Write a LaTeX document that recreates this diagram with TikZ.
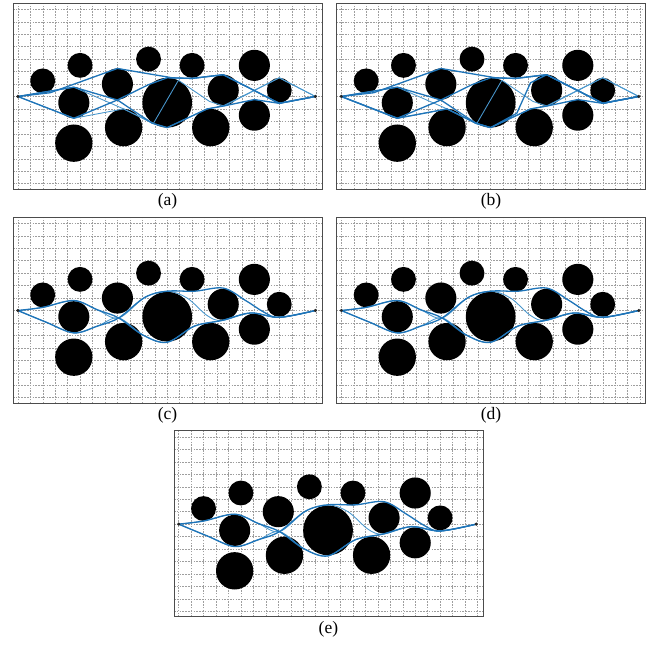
\documentclass[tikz,border=0pt]{standalone}
\usepackage{fontspec}
\setmainfont{Liberation Serif}
\usetikzlibrary{positioning}
\definecolor{pathblue}{RGB}{30,116,184}
\definecolor{pathlight}{RGB}{72,150,204}

\tikzset{
  gridline/.style={black!38, line width=0.45pt, dash pattern=on 1.8pt off 1.4pt},
  frameline/.style={black!70, line width=0.9pt},
  obstacle/.style={fill=black},
  route/.style={pathblue, line width=1.5pt, line join=round},
  routethin/.style={pathlight, line width=1pt, line join=round},
  endpoint/.style={fill=black!85},
  caption/.style={font=\fontsize{20}{22}\selectfont, inner sep=0pt, anchor=north},
}

% grid, obstacles, frame and start/goal of one panel
\newcommand{\workspace}[2]{%
  \foreach \gx in {0,...,24} \draw[gridline] (\gx,-0.45) -- (\gx,14.5);
  \foreach \gy in {0,...,14} \draw[gridline] (-0.38,\gy) -- (24.45,\gy);
  \foreach \cx/\cy/\r in {2/8.25/1, 5/9.5/1, 4.5/6.5/1.25, 4.5/3.25/1.5,
      8/8/1.25, 10.5/10/1, 8.5/4.5/1.5, 12/6.5/2, 14/9.5/1, 15.5/4.5/1.5,
      16.5/7.5/1.25, 19/9.5/1.25, 19/5.5/1.25, 21/7.5/1}
    \fill[obstacle] (\cx,\cy) circle (\r);
  \draw[frameline] (-0.38,-0.45) rectangle (24.45,14.5);
  \node[caption] (#1-cap) at (12.03,-0.8) {#2};
  \coordinate (#1-s) at (0,7);
  \coordinate (#1-t) at (23.9,7);
}
\newcommand{\markends}[1]{%
  \fill[endpoint] (#1-s) circle (0.14);
  \fill[endpoint] (#1-t) circle (0.14);
}
% straight-line candidate routes
\newcommand{\polyroutes}[1]{%
  \draw[routethin] (#1-s) -- (4.5,5.25) -- (8.5,6) -- (10.9,4.85) -- (12.9,8.3) -- (15.4,6.6) -- (16.5,6.25) -- (21,8.5) -- (#1-t);
  \draw[routethin] (#1-s) -- (4.5,7.75) -- (8.5,6) -- (10.8,4.85) -- (12,4.5) -- (15.2,6) -- (16.6,6.25) -- (21,8.5) -- (#1-t);
  \draw[route] (#1-s) -- (2.6,7.3) -- (8,9.25) -- (12.4,8.5) -- (14,8.45) -- (16.5,8.75) -- (21,6.45) -- (#1-t);
  \draw[route] (#1-s) -- (4.5,7.75) -- (8,6.72) -- (10.8,4.85) -- (12,4.5) -- (15.2,6) -- (16.6,6.25) -- (19,6.75) -- (21,6.45) -- (#1-t);
  \draw[route] (#1-s) -- (4.5,5.25) -- (8,6.72) -- (10.5,7.95) -- (12,8.5) -- (14,8.45) -- (16.5,8.75) -- (21,6.45) -- (#1-t);
}
% smoothed routes
\newcommand{\smoothroutes}[1]{%
  \draw[routethin] plot[smooth, tension=0.55] coordinates {(#1-s) (2,7.25) (4.5,7.8) (6.4,7.05) (8.1,6.4) (10.2,8.05) (12,8.55) (13.6,8.0) (15.2,6.6) (16.4,6.2) (18.7,6.8) (21,6.45) (#1-t)};
  \draw[routethin] plot[smooth, tension=0.55] coordinates {(#1-s) (2.3,6.05) (4.5,5.2) (6.4,5.75) (8.1,6.4) (10.1,5.0) (12,4.45) (14.2,5.75) (16.4,6.2) (18.7,6.8) (21,6.45) (#1-t)};
  \draw[route] plot[smooth, tension=0.55] coordinates {(#1-s) (2,7.25) (4.5,7.8) (6.4,7.05) (8.1,6.4) (10.1,5.0) (12,4.45) (14.2,5.75) (16.4,6.2) (18.7,6.8) (21,6.45) (#1-t)};
  \draw[route] plot[smooth, tension=0.55] coordinates {(#1-s) (2.3,6.05) (4.5,5.2) (6.4,5.75) (8.1,6.4) (10.2,8.05) (12,8.55) (14.2,8.55) (16.5,8.8) (18.3,7.8) (19.8,6.85) (21,6.45) (#1-t)};
}

\begin{document}
\begin{tikzpicture}[x=0.5cm, y=0.5cm]
    \useasboundingbox (0,0) rectangle (52.45,51.73);

    \begin{scope}[shift={(1.43,36.98)}]
      \workspace{a}{(a)}
      \polyroutes{a}
      \markends{a}
    \end{scope}

    \begin{scope}[shift={(27.41,36.98)}]
      \workspace{b}{(b)}
      \polyroutes{b}
      \draw[route] (b-s) -- (4.5,5.25) -- (8.5,6) -- (10.8,4.85) -- (12,4.5) -- (14.1,5.65) -- (15.2,8.1) -- (16.5,8.75) -- (21,6.45) -- (b-t);
      \markends{b}
    \end{scope}

    \begin{scope}[shift={(1.43,19.79)}]
      \workspace{c}{(c)}
      \smoothroutes{c}
      \markends{c}
    \end{scope}

    \begin{scope}[shift={(27.41,19.79)}]
      \workspace{d}{(d)}
      \smoothroutes{d}
      \markends{d}
    \end{scope}

    \begin{scope}[shift={(14.35,2.63)}]
      \workspace{e}{(e)}
      \smoothroutes{e}
      \markends{e}
    \end{scope}
\end{tikzpicture}
\end{document}
